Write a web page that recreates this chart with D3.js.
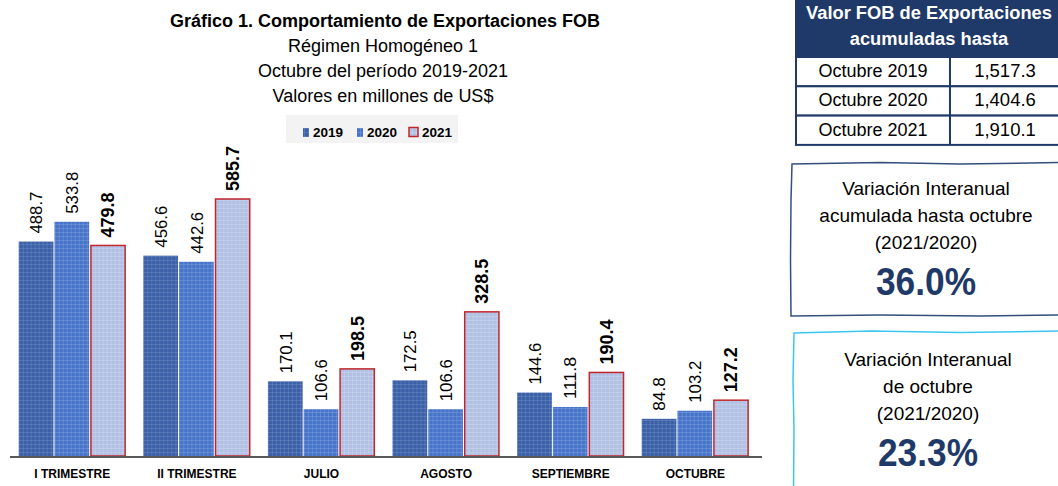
<!DOCTYPE html>
<html>
<head>
<meta charset="utf-8">
<script src="https://cdn.jsdelivr.net/npm/d3@7"></script>
<style>
  body { margin: 0; background: #fff; }
  svg { display: block; font-family: "Liberation Sans", Arial, sans-serif; }
</style>
</head>
<body>
<div class="container"></div>
<script>
// data
const categories = ['I TRIMESTRE', 'II TRIMESTRE', 'JULIO', 'AGOSTO', 'SEPTIEMBRE', 'OCTUBRE']
const series = ['2019', '2020', '2021']
const values2019 = [488.7, 456.6, 170.1, 172.5, 144.6, 84.8]
const values2020 = [533.8, 442.6, 106.6, 106.6, 111.8, 103.2]
const values2021 = [479.8, 585.7, 198.5, 328.5, 190.4, 127.2]

const titleLines = ['Régimen Homogéneo 1', 'Octubre del período 2019-2021', 'Valores en millones de US$']
const tableHeader = ['Valor FOB de Exportaciones', 'acumuladas hasta']
const tableLabels = ['Octubre 2019', 'Octubre 2020', 'Octubre 2021']
const tableValues = ['1,517.3', '1,404.6', '1,910.1']
const box1Lines = ['Variación Interanual', 'acumulada hasta octubre', '(2021/2020)']
const box1Value = '36.0%'
const box2Lines = ['Variación Interanual', 'de octubre', '(2021/2020)']
const box2Value = '23.3%'

const width = 1058
const height = 486
const baseline = 456

const svg = d3.select('.container')
    .append('svg')
    .attr('width', width)
    .attr('height', height)

// bar fill patterns
const defs = svg.append('defs')
const patternColors = {
    '2019': {base: '#3b60a6', line: '#7f9bd0'},
    '2020': {base: '#4774ca', line: '#92addf'},
    '2021': {base: '#b1c0e3', line: '#d6def2'}
}
series.forEach(s => {
    const p = defs.append('pattern')
        .attr('id', 'pat' + s)
        .attr('width', 4)
        .attr('height', 4)
        .attr('patternUnits', 'userSpaceOnUse')
    p.append('rect').attr('width', 4).attr('height', 4).attr('fill', patternColors[s].base)
    p.append('rect').attr('width', 4).attr('height', 1).attr('fill', patternColors[s].line).attr('opacity', 0.35)
    p.append('rect').attr('width', 1).attr('height', 4).attr('fill', patternColors[s].line).attr('opacity', 0.35)
})

// title
svg.append('text')
    .attr('x', 385)
    .attr('y', 27)
    .attr('text-anchor', 'middle')
    .style('font-weight', 'bold')
    .style('font-size', '18px')
    .text('Gráfico 1. Comportamiento de Exportaciones FOB')

svg.selectAll('.subtitle')
    .data(titleLines)
    .enter()
    .append('text')
    .attr('class', 'subtitle')
    .attr('x', 383)
    .attr('y', (d, i) => 52 + i * 25)
    .attr('text-anchor', 'middle')
    .style('font-size', '18px')
    .text(d => d)

// legend
const legend = svg.append('g')
legend.append('rect')
    .attr('x', 286).attr('y', 115)
    .attr('width', 172).attr('height', 28)
    .attr('fill', '#f3f3f3')
const legendX = [303, 357, 409]
series.forEach((s, i) => {
    legend.append('rect')
        .attr('x', legendX[i])
        .attr('y', s == '2021' ? 127.5 : 128)
        .attr('width', s == '2021' ? 9 : 6)
        .attr('height', 9)
        .attr('fill', `url(#pat${s})`)
        .attr('stroke', s == '2021' ? '#c0272d' : 'none')
        .attr('stroke-width', 1.5)
    legend.append('text')
        .attr('x', legendX[i] + (s == '2021' ? 13 : 10))
        .attr('y', 137)
        .style('font-weight', 'bold')
        .style('font-size', '13.5px')
        .text(s)
})

// scales
const x0 = d3.scaleBand()
    .domain(categories)
    .range([10, 757.6])
    .paddingInner(0.14)
    .paddingOuter(0.07)

const x1 = d3.scaleBand()
    .domain(series)
    .range([0, x0.bandwidth()])

const y = d3.scaleLinear()
    .domain([0, 600])
    .range([baseline, baseline - 0.4388 * 600])

const rows = categories.map((c, i) => ({
    cat: c,
    vals: [
        {s: '2019', v: values2019[i]},
        {s: '2020', v: values2020[i]},
        {s: '2021', v: values2021[i]}
    ]
}))

const groups = svg.selectAll('.group')
    .data(rows)
    .enter()
    .append('g')
    .attr('class', 'group')
    .attr('transform', d => `translate(${x0(d.cat)}, 0)`)

groups.selectAll('rect')
    .data(d => d.vals)
    .enter()
    .append('rect')
    .attr('x', d => x1(d.s) + (d.s == '2021' ? 0.75 : 0))
    .attr('y', d => y(d.v))
    .attr('width', d => x1.bandwidth() - (d.s == '2021' ? 1.5 : 1))
    .attr('height', d => baseline - y(d.v))
    .attr('fill', d => `url(#pat${d.s})`)
    .attr('stroke', d => d.s == '2021' ? '#c0272d' : 'none')
    .attr('stroke-width', 1.5)

// value labels, stretched a bit like the original
groups.selectAll('.label')
    .data(d => d.vals)
    .enter()
    .append('text')
    .attr('class', 'label')
    .attr('transform', d => `translate(${x1(d.s) + x1.bandwidth() / 2}, ${y(d.v) - 8}) rotate(-90)`)
    .attr('dy', '0.35em')
    .attr('text-anchor', 'start')
    .attr('textLength', d => (d.s == '2021' ? 9 : 8.4) * d.v.toFixed(1).length)
    .attr('lengthAdjust', 'spacingAndGlyphs')
    .style('font-size', d => d.s == '2021' ? '18px' : '16.5px')
    .style('font-weight', d => d.s == '2021' ? 'bold' : 'normal')
    .text(d => d.v.toFixed(1))

// x axis
svg.append('line')
    .attr('x1', 10).attr('x2', 762)
    .attr('y1', baseline + 1).attr('y2', baseline + 1)
    .attr('stroke', '#595959')
    .attr('stroke-width', 2)

svg.selectAll('.cat')
    .data(categories)
    .enter()
    .append('text')
    .attr('class', 'cat')
    .attr('x', d => x0(d) + x0.bandwidth() / 2)
    .attr('y', 478)
    .attr('text-anchor', 'middle')
    .style('font-weight', 'bold')
    .style('font-size', '12px')
    .text(d => d)

// table
const navy = '#1f3a68'
const table = svg.append('g')
table.append('rect')
    .attr('x', 795).attr('y', 0)
    .attr('width', 264).attr('height', 57)
    .attr('fill', navy)
table.selectAll('.th')
    .data(tableHeader)
    .enter()
    .append('text')
    .attr('x', 929)
    .attr('y', (d, i) => 19 + i * 26)
    .attr('text-anchor', 'middle')
    .attr('fill', '#fff')
    .style('font-weight', 'bold')
    .style('font-size', '18.3px')
    .text(d => d)

const rowH = 29.3
tableLabels.forEach((lab, i) => {
    const top = 57 + i * rowH
    table.append('rect')
        .attr('x', 796).attr('y', top)
        .attr('width', 263).attr('height', rowH)
        .attr('fill', '#fff')
        .attr('stroke', navy)
        .attr('stroke-width', 2)
    table.append('line')
        .attr('x1', 950).attr('x2', 950)
        .attr('y1', top).attr('y2', top + rowH)
        .attr('stroke', navy)
        .attr('stroke-width', 2)
    table.append('text')
        .attr('x', 873)
        .attr('y', top + 20)
        .attr('text-anchor', 'middle')
        .style('font-size', '18px')
        .text(lab)
    table.append('text')
        .attr('x', 1005)
        .attr('y', top + 20)
        .attr('text-anchor', 'middle')
        .style('font-size', '18.5px')
        .text(tableValues[i])
})

// boxes with a slightly uneven, hand-drawn border
const wobble = d3.line()
svg.append('path')
    .attr('d', wobble([[1062, 162.5], [960, 164], [880, 162.5], [792, 164], [791, 200], [790.5, 260], [791, 316], [880, 315], [980, 316], [1062, 315]]))
    .attr('fill', 'none')
    .attr('stroke', '#34507a')
    .attr('stroke-width', 1.5)

svg.append('path')
    .attr('d', wobble([[1062, 331], [960, 332.5], [870, 331], [794, 333], [793, 380], [794, 430], [793.5, 490]]))
    .attr('fill', 'none')
    .attr('stroke', '#3cc6ef')
    .attr('stroke-width', 1.5)

function boxText(lines, value, top, cx) {
    svg.selectAll(null)
        .data(lines)
        .enter()
        .append('text')
        .attr('x', cx)
        .attr('y', (d, i) => top + i * 27)
        .attr('text-anchor', 'middle')
        .style('font-size', '19px')
        .text(d => d)
    svg.append('text')
        .attr('x', cx)
        .attr('y', top + 100)
        .attr('text-anchor', 'middle')
        .attr('fill', navy)
        .style('font-weight', 'bold')
        .style('font-size', '39px')
        .attr('textLength', 100)
        .attr('lengthAdjust', 'spacingAndGlyphs')
        .text(value)
}
boxText(box1Lines, box1Value, 195, 926)
boxText(box2Lines, box2Value, 366, 928)
</script>
</body>
</html>
